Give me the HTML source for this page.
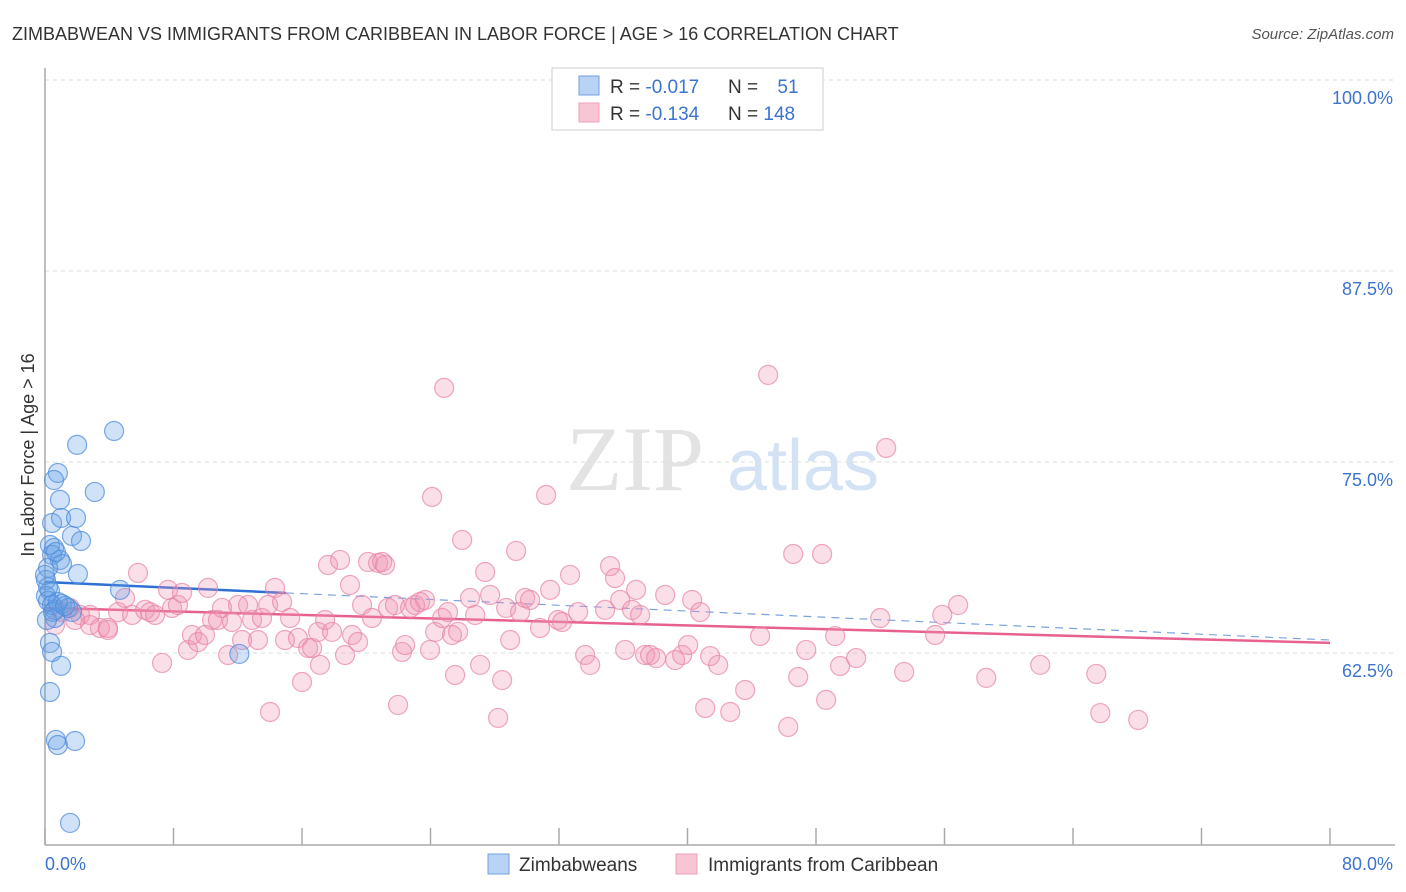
<!DOCTYPE html>
<html><head><meta charset="utf-8">
<style>
body{margin:0;background:#fff;font-family:"Liberation Sans",sans-serif;}
#wrap{position:relative;width:1406px;height:892px;overflow:hidden;}
</style></head>
<body>
<div id="wrap">
<svg id="chart" width="1406" height="892" xmlns="http://www.w3.org/2000/svg">
  <text x="12" y="40" font-size="18" fill="#333">ZIMBABWEAN VS IMMIGRANTS FROM CARIBBEAN IN LABOR FORCE | AGE &gt; 16 CORRELATION CHART</text>
  <text x="1394" y="39" font-size="15" fill="#555" font-style="italic" text-anchor="end">Source: ZipAtlas.com</text>
  <g>
    <text x="635" y="490" font-size="92" fill="#ddd" font-family="Liberation Serif,serif" text-anchor="middle" opacity="0.8">ZIP</text>
    <text x="803" y="490" font-size="72" fill="#c9dcf2" text-anchor="middle" opacity="0.8">atlas</text>
  </g>
  <g id="grid"></g>
  <g id="axes"></g>
  <g id="trend"></g>
  <g id="points"></g>
  <text transform="translate(34,455) rotate(-90)" font-size="18" fill="#333" text-anchor="middle">In Labor Force | Age &gt; 16</text>
  <g>
    <rect x="552" y="68" width="271" height="62" fill="#fff" stroke="#ccc"/>
    <rect x="579" y="76" width="20" height="19" fill="#b8d3f3" stroke="#6fa0e0"/>
    <rect x="579" y="103" width="20" height="19" fill="#f8c5d5" stroke="#eea0b8"/>
    <text x="610" y="93" font-size="19" fill="#333">R = <tspan fill="#3b73d0">-0.017</tspan></text>
    <text x="728" y="93" font-size="19" fill="#333">N = <tspan fill="#3b73d0" dx="14">51</tspan></text>
    <text x="610" y="120" font-size="19" fill="#333">R = <tspan fill="#3b73d0">-0.134</tspan></text>
    <text x="728" y="120" font-size="19" fill="#333">N = <tspan fill="#3b73d0">148</tspan></text>
  </g>
  <g>
    <rect x="488" y="854" width="21" height="20" fill="#b8d3f3" stroke="#6fa0e0"/>
    <text x="519" y="871" font-size="19" fill="#333">Zimbabweans</text>
    <rect x="676" y="854" width="21" height="20" fill="#f8c5d5" stroke="#eea0b8"/>
    <text x="708" y="871" font-size="19" fill="#333">Immigrants from Caribbean</text>
  </g>
</svg>
</div>
<script>
const yTicks = [100, 87.5, 75, 62.5];
const yTickLabels = ["100.0%", "87.5%", "75.0%", "62.5%"];
const xTickLabels = ["0.0%", "80.0%"];
const blueX = [4.3,2.0,0.8,0.56,3.1,0.93,0.44,1.0,1.93,1.68,2.24,0.56,0.44,0.93,1.06,0.19,2.05,0.06,4.67,0.31,0.06,0.19,1.06,0.62,1.43,1.68,0.62,12.1,0.31,0.44,1.0,0.31,0.68,0.8,1.87,1.56,0.44,0.19,0,0.5,0.8,1.25,0.12,0.31,0.68];
const blueY = [77.03,76.12,74.28,73.82,73.04,72.52,71.01,71.34,71.34,70.16,69.83,69.37,68.92,68.59,68.33,68.07,67.67,67.28,66.63,66.56,66.23,65.91,65.71,65.32,65.45,65.19,64.79,62.44,63.16,62.57,61.66,59.95,56.81,56.48,56.74,51.38,65.64,66.82,67.61,65.19,65.84,65.58,64.66,69.57,69.11];
const pinkX = [0.62,1.06,1.56,2.18,2.80,3.42,3.92,4.55,4.98,5.42,5.79,6.23,6.54,6.85,7.29,7.66,7.91,8.28,8.53,8.90,9.15,9.53,9.96,10.15,10.40,10.77,11.02,11.40,11.64,12.02,12.27,12.64,12.89,13.26,13.51,13.89,14.01,14.32,14.76,14.94,15.26,15.75,16.0,16.38,16.63,17.0,17.12,17.44,17.62,17.87,18.37,18.68,18.99,19.12,19.49,19.74,20.11,20.36,20.74,20.99,21.17,21.36,21.79,21.98,22.23,22.42,22.73,23.04,23.35,23.66,23.97,24.1,24.29,24.72,24.85,25.09,25.34,25.53,25.72,25.97,26.46,26.78,27.09,27.40,27.71,28.21,28.46,28.71,28.96,29.33,29.58,29.89,30.2,30.82,31.2,31.45,31.94,32.19,32.69,33.19,33.63,33.94,34.87,35.18,35.49,35.81,36.12,36.55,36.80,37.05,37.36,37.67,38.05,38.61,39.23,39.67,40.04,40.29,40.79,41.10,41.41,41.91,42.66,43.59,44.52,45.02,46.27,46.58,46.89,47.39,48.38,48.63,49.19,49.50,50.50,52.0,52.37,53.49,55.42,55.86,56.85,58.6,61.96,65.45,65.7,68.06,2.80,3.92,1.87];
const pinkY = [64.33,65.18,65.45,64.99,64.99,64.14,64.01,65.18,66.10,64.99,67.74,65.32,65.18,64.99,61.85,66.63,65.45,65.64,66.43,62.70,63.68,63.22,63.68,66.76,64.66,64.66,65.45,62.37,64.53,65.64,63.35,65.64,64.66,63.35,64.79,65.64,58.64,66.76,65.84,63.35,64.79,63.48,60.60,62.83,62.83,63.88,61.72,64.66,68.26,63.88,68.59,62.37,66.95,63.68,63.22,65.64,68.46,64.79,68.39,68.46,68.26,65.45,65.64,59.10,62.57,63.02,65.45,65.64,65.84,65.97,62.70,72.71,63.88,64.79,79.85,65.18,63.68,61.06,63.88,69.90,66.10,64.99,61.72,67.80,66.30,58.25,60.73,65.45,63.35,69.18,65.18,66.10,65.97,64.14,72.84,66.63,64.66,64.53,67.61,65.18,62.37,61.72,65.32,68.19,67.41,65.97,62.70,65.32,66.63,64.99,62.37,62.37,62.17,66.30,62.04,62.37,63.02,65.97,65.18,58.90,62.30,61.72,58.64,60.08,63.61,80.70,57.66,68.98,60.93,62.70,68.98,59.43,63.61,61.65,62.17,64.79,75.92,61.26,63.68,64.99,65.64,60.87,61.72,61.13,58.57,58.12,64.33,64.14,64.66];
const blueTrend = [0, 67.15, 15, 66.43, 80, 63.35];
const pinkTrend = [0, 65.45, 80, 63.16];

const NS = "http://www.w3.org/2000/svg";
const X0 = 45, X1 = 1330, Y100 = 80, PXPER = 15.28;
function xs(v){ return X0 + v/80*(X1-X0); }
function ys(v){ return Y100 + (100-v)*PXPER; }
function mk(tag, attrs, parent){
  const e = document.createElementNS(NS, tag);
  for (const k in attrs) e.setAttribute(k, attrs[k]);
  parent.appendChild(e);
  return e;
}
const grid = document.getElementById('grid');
const axes = document.getElementById('axes');
yTicks.forEach((t,i)=>{
  const l = mk('line',{x1:X0,x2:1395,y1:ys(t),y2:ys(t),stroke:'#ddd','stroke-dasharray':'4,4'},grid);
  
  
  const tx = mk('text',{x:1393,y:ys(t)+24,'font-size':18,fill:'#3b73d0','text-anchor':'end'},grid);
  tx.textContent = yTickLabels[i];
  
  
});
const ya = mk('line',{x1:X0,x2:X0,y1:68,y2:845,stroke:'#aaa','stroke-width':1.5},axes);


const xa = mk('line',{x1:X0,x2:1395,y1:845,y2:845,stroke:'#aaa','stroke-width':1.5},axes);


for (let k=0;k<=10;k++){
  const tk = mk('line',{x1:xs(k*8),x2:xs(k*8),y1:828,y2:845,stroke:'#aaa','stroke-width':1.5},axes);
  
  
}
const xl0 = mk('text',{x:45,y:870,'font-size':18,fill:'#3b73d0'},axes);
xl0.textContent = xTickLabels[0];


const xl1 = mk('text',{x:1393,y:870,'font-size':18,fill:'#3b73d0','text-anchor':'end'},axes);
xl1.textContent = xTickLabels[1];



const pts = document.getElementById('points');
pinkX.forEach((x,i)=>{
  const c = mk('circle',{cx:xs(x),cy:ys(pinkY[i]),r:9.5,fill:'rgba(240,150,180,0.3)',stroke:'rgba(232,130,165,0.7)','stroke-width':1.2},pts);
  
  
});
blueX.forEach((x,i)=>{
  const c = mk('circle',{cx:xs(x),cy:ys(blueY[i]),r:9.5,fill:'rgba(100,160,230,0.3)',stroke:'rgba(80,140,220,0.75)','stroke-width':1.2},pts);
  
  
});
const tr = document.getElementById('trend');
const b1 = mk('line',{x1:xs(blueTrend[0]),y1:ys(blueTrend[1]),x2:xs(blueTrend[2]),y2:ys(blueTrend[3]),stroke:'#2f6fd6','stroke-width':2.5},tr);


const b2 = mk('line',{x1:xs(blueTrend[2]),y1:ys(blueTrend[3]),x2:xs(blueTrend[4]),y2:ys(blueTrend[5]),stroke:'#7aa3e0','stroke-width':1.2,'stroke-dasharray':'8,6'},tr);


const p1 = mk('line',{x1:xs(pinkTrend[0]),y1:ys(pinkTrend[1]),x2:xs(pinkTrend[2]),y2:ys(pinkTrend[3]),stroke:'#e8608f','stroke-width':2.5},tr);


</script>
</body></html>
